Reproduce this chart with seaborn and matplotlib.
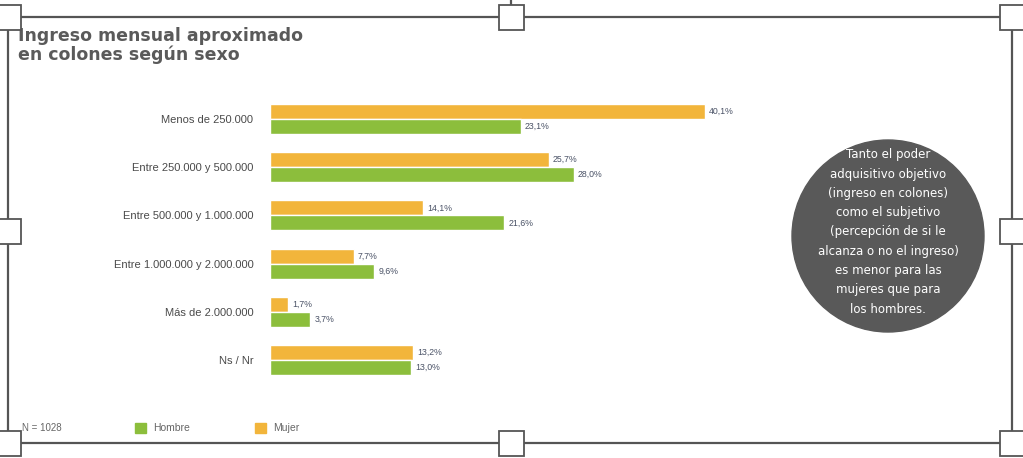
import pandas as pd
import matplotlib.pyplot as plt
import seaborn as sns
from matplotlib.patches import Rectangle, Ellipse
from matplotlib.lines import Line2D

# datos
categorias = ['Menos de 250.000', 'Entre 250.000 y 500.000', 'Entre 500.000 y 1.000.000',
              'Entre 1.000.000 y 2.000.000', 'Más de 2.000.000', 'Ns / Nr']
mujer = [40.1, 25.7, 14.1, 7.7, 1.7, 13.2]
hombre = [23.1, 28.0, 21.6, 9.6, 3.7, 13.0]
sexos = ['Mujer', 'Hombre']
colores = {'Mujer': '#F2B53B', 'Hombre': '#8CBE3C'}

df = pd.concat([
    pd.DataFrame({'cat': categorias, 'pct': mujer, 'sexo': 'Mujer'}),
    pd.DataFrame({'cat': categorias, 'pct': hombre, 'sexo': 'Hombre'}),
])

sns.set_theme(style='white')
plt.rcParams['font.family'] = ['Liberation Sans', 'DejaVu Sans']

W, H = 1023, 458
fig = plt.figure(figsize=(W / 100, H / 100), dpi=100)
fig.patch.set_facecolor('white')

# ejes del gráfico de barras (en pixeles -> fracción)
ax = fig.add_axes([270 / W, 1 - 384 / H, 510 / W, 289 / H])
sns.barplot(data=df, y='cat', x='pct', hue='sexo', hue_order=sexos, palette=colores,
            orient='h', width=0.62, gap=0, saturation=1, legend=False, ax=ax)
ax.set_xlim(0, 47.0)
ax.set_ylim(5.5, -0.5)
ax.set_xlabel('')
ax.set_ylabel('')
ax.set_xticks([])
for s in ax.spines.values():
    s.set_visible(False)
ax.tick_params(axis='y', length=0, pad=12, labelsize=8, labelcolor='#4a4a4a')

for cont in ax.containers:
    labels = [f'{v:.1f}%'.replace('.', ',') for v in cont.datavalues]
    ax.bar_label(cont, labels=labels, padding=3, fontsize=6.3, color='#4a5266')

# título
fig.text(18 / W, 1 - 27 / H, 'Ingreso mensual aproximado\nen colones según sexo',
         ha='left', va='top', fontsize=12.5, fontweight='bold', color='#5a5a5a',
         family='DejaVu Sans', linespacing=1.05)

# leyenda
fig.text(22 / W, 1 - 428 / H, 'N = 1028', fontsize=7, color='#666666', va='center')
for x0, s in [(135, 'Hombre'), (255, 'Mujer')]:
    fig.add_artist(Rectangle((x0 / W, 1 - 433 / H), 11 / W, 10 / H,
                             transform=fig.transFigure, color=colores[s]))
    fig.text((x0 + 18) / W, 1 - 428 / H, s, fontsize=7.5, color='#666666', va='center')

# círculo con nota
cx, cy, r = 888, 236, 96
fig.add_artist(Ellipse((cx / W, 1 - cy / H), 2 * r / W, 2 * r / H,
                       transform=fig.transFigure, color='#595959'))
nota = ('Tanto el poder\nadquisitivo objetivo\n(ingreso en colones)\ncomo el subjetivo\n'
        '(percepción de si le\nalcanza o no el ingreso)\nes menor para las\n'
        'mujeres que para\nlos hombres.')
fig.text(cx / W, 1 - (cy - 4) / H, nota, ha='center', va='center', fontsize=8.5,
         color='white', family='DejaVu Sans', linespacing=1.63)

# marco de selección con manijas
lc = '#555555'
top, bot, lft, rgt = 17, 443, 8, 1012
for (x1, y1, x2, y2) in [(lft, top, rgt, top), (lft, bot, rgt, bot),
                         (lft, top, lft, bot), (rgt, top, rgt, bot), (511, 0, 511, top)]:
    fig.add_artist(Line2D([x1 / W, x2 / W], [1 - y1 / H, 1 - y2 / H],
                          transform=fig.transFigure, color=lc, lw=1.6))
hs = 25
for hx, hy in [(lft, top), (511, top), (rgt, top), (lft, 231), (rgt, 231),
               (lft, bot), (511, bot), (rgt, bot)]:
    fig.add_artist(Rectangle(((hx - hs / 2) / W, 1 - (hy + hs / 2) / H), hs / W, hs / H,
                             transform=fig.transFigure, facecolor='white',
                             edgecolor=lc, lw=1.3, zorder=5))

fig.savefig('out.png', dpi=100, facecolor='white')
